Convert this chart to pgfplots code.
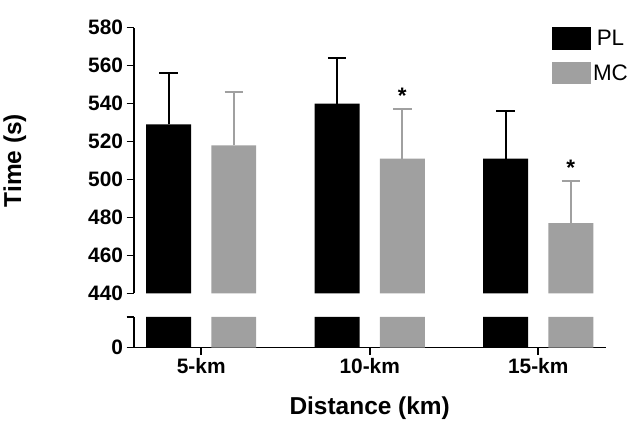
\documentclass[border=0pt]{standalone}
\usepackage{pgfplots}
\pgfplotsset{compat=1.18}
\usepackage{fontspec}
\setmainfont{Liberation Sans}
\definecolor{mcg}{HTML}{A0A0A0}
\begin{document}
\begin{tikzpicture}
\pgfplotsset{common/.style={scale only axis, width=463pt, xmin=-0.4, xmax=2.4,
  axis line style={line width=1.8pt}, tick style={line width=1.8pt, black},
  /pgf/number format/assume math mode=true,
  ticklabel style={font=\bfseries\fontsize{20.5}{21}\selectfont},
  ybar, bar width=44pt,
  }}
% lower
\begin{axis}[common, at={(0,0)}, height=30pt, ymin=0, ymax=1, ytick={0},
  axis x line*=bottom, axis y line*=left, xtick={0,1,2}, xticklabels={5-km,10-km,15-km},
  x axis line style={-}, y axis line style={-},
  xtick align=outside, ytick align=outside, major tick length=7pt,
  xlabel={\bfseries\fontsize{24}{25}\selectfont Distance (km)}, xlabel style={yshift=-16pt},
  clip=false]
\addplot[fill=black, draw=none, bar shift=-32pt] coordinates {(0,1) (1,1) (2,1)};
\addplot[fill=mcg, draw=none, bar shift=32pt] coordinates {(0,1) (1,1) (2,1)};
\draw[line width=1.8pt] ([xshift=-7pt]rel axis cs:0,1) -- (rel axis cs:0,1);
\path ([yshift=-82pt]rel axis cs:0,0);
\end{axis}
% upper
\begin{axis}[common, at={(0,53pt)}, height=261pt, ymin=440, ymax=580,
  axis x line=none, axis y line*=left,
  ytick={440,460,...,580}, ytick align=outside, major tick length=7pt,
  y axis line style={-},
  ylabel={\bfseries\fontsize{24}{25}\selectfont Time (s)}, ylabel style={yshift=54pt},
  clip=false,
  legend style={draw=none, fill=none, at={(0.88,1.01)}, anchor=north west,
    font=\fontsize{22}{23}\selectfont, row sep=12pt},
  legend image code/.code={\fill[#1] (0pt,-11pt) rectangle (38pt,11pt);},
  ]
\addplot[fill=black, draw=none, bar shift=-32pt,
  error bars/.cd, y dir=plus, y explicit, error bar style={line width=2pt, black}, error mark options={line width=2pt, mark size=9pt, rotate=90}]
  coordinates {(0,529) +- (0,27) (1,540) +- (0,24) (2,511) +- (0,25)};
\addplot[fill=mcg, draw=none, bar shift=32pt,
  error bars/.cd, y dir=plus, y explicit, error bar style={line width=2pt, mcg}, error mark options={line width=2pt, mark size=9pt, rotate=90}]
  coordinates {(0,518) +- (0,28) (1,511) +- (0,26) (2,477) +- (0,22)};
\legend{PL,MC}
\node[font=\bfseries\fontsize{22}{22}\selectfont] at (axis cs:1,544) [xshift=32pt] {*};
\node[font=\bfseries\fontsize{22}{22}\selectfont] at (axis cs:2,506) [xshift=32pt] {*};
\path ([yshift=27pt]rel axis cs:0,1);
\end{axis}
\end{tikzpicture}
\end{document}
